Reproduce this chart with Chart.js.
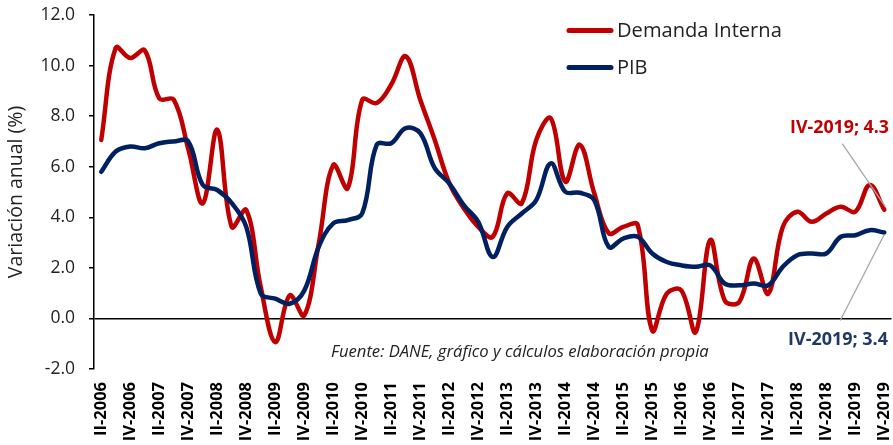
<!DOCTYPE html>
<html>
<head>
<meta charset="utf-8">
<script src="https://cdn.jsdelivr.net/npm/chart.js@4.4.1/dist/chart.umd.min.js"></script>
<style>
  html, body { margin: 0; padding: 0; background: #fff; }
  #wrap { width: 893px; height: 445px; position: relative; }
</style>
</head>
<body>
<div id="wrap"><canvas id="c" width="893" height="445"></canvas></div>
<script>
const categories = [
  "II-2006","III-2006","IV-2006",
  "I-2007","II-2007","III-2007","IV-2007",
  "I-2008","II-2008","III-2008","IV-2008",
  "I-2009","II-2009","III-2009","IV-2009",
  "I-2010","II-2010","III-2010","IV-2010",
  "I-2011","II-2011","III-2011","IV-2011",
  "I-2012","II-2012","III-2012","IV-2012",
  "I-2013","II-2013","III-2013","IV-2013",
  "I-2014","II-2014","III-2014","IV-2014",
  "I-2015","II-2015","III-2015","IV-2015",
  "I-2016","II-2016","III-2016","IV-2016",
  "I-2017","II-2017","III-2017","IV-2017",
  "I-2018","II-2018","III-2018","IV-2018",
  "I-2019","II-2019","III-2019","IV-2019"
];
const demandaInterna = [
  7.06,10.7,10.3,
  10.6,8.7,8.65,6.7,
  4.55,7.46,3.62,4.29,
  1.24,-0.94,0.91,0.12,
  2.97,6.07,5.15,8.65,
  8.52,9.25,10.37,8.65,
  7.06,5.35,4.36,3.62,
  3.23,4.95,4.55,7.06,
  7.92,5.41,6.87,4.95,
  3.37,3.62,3.69,-0.48,
  0.98,1.11,-0.54,3.1,
  0.71,0.65,2.37,0.98,
  3.62,4.22,3.82,4.15,
  4.42,4.22,5.28,4.3
];
const pib = [
  5.8,6.6,6.8,
  6.73,6.93,7.0,7.0,
  5.28,5.08,4.56,3.62,
  0.98,0.78,0.58,1.1,
  2.83,3.76,3.89,4.16,
  6.87,6.93,7.53,7.33,
  5.94,5.34,4.48,3.82,
  2.43,3.62,4.15,4.68,
  6.13,5.01,4.97,4.68,
  2.83,3.16,3.23,2.57,
  2.23,2.1,2.04,2.1,
  1.38,1.31,1.38,1.31,
  2.04,2.5,2.57,2.57,
  3.23,3.29,3.49,3.4
];
const yTicks = [-2, 0, 2, 4, 6, 8, 10, 12];
const seriesNames = ["Demanda Interna", "PIB"];
const lastLabels = ["IV-2019; 4.3", "IV-2019; 3.4"];
const sourceNote = "Fuente: DANE, gráfico y cálculos elaboración propia";
const yTitle = "Variación anual (%)";

const RED = "#C00000";
const NAVY = "#002060";
const NAVY_TXT = "#1F3864";
const TXT = "#222222";
const FONT = "'Open Sans', 'Noto Sans', sans-serif";

function fitFont(ctx, text, style, target, base) {
  ctx.font = style + " " + base + "px " + FONT;
  const w = ctx.measureText(text).width;
  const size = base * target / w;
  ctx.font = style + " " + size.toFixed(2) + "px " + FONT;
  return size;
}

const overlay = {
  id: "overlay",
  afterDraw(chart) {
    const ctx = chart.ctx;
    ctx.save();
    // legend
    const items = [[seriesNames[0], RED, 30.5], [seriesNames[1], NAVY, 67.5]];
    items.forEach(([name, col, y], i) => {
      ctx.strokeStyle = col; ctx.lineWidth = 5; ctx.lineCap = "round";
      ctx.beginPath(); ctx.moveTo(569, y); ctx.lineTo(611, y); ctx.stroke();
      ctx.fillStyle = TXT; ctx.textBaseline = "middle"; ctx.textAlign = "left";
      ctx.font = "normal 20px " + FONT;
      if (i === 0) fitFont(ctx, name, "normal", 165, 20);
      ctx.fillText(name, 617, y + 0.5);
    });
    // source note
    ctx.fillStyle = TXT;
    fitFont(ctx, sourceNote, "italic", 378, 14);
    ctx.textAlign = "left"; ctx.textBaseline = "middle";
    ctx.fillText(sourceNote, 331, 352);
    // last value annotations
    const mR = chart.getDatasetMeta(0).data;
    const mB = chart.getDatasetMeta(1).data;
    const pr = mR[mR.length - 1], pb = mB[mB.length - 1];
    ctx.strokeStyle = "#A6A6A6"; ctx.lineWidth = 1.3; ctx.lineCap = "butt";
    ctx.beginPath(); ctx.moveTo(pr.x + 1, pr.y - 3); ctx.lineTo(pr.x - 42, pr.y - 66); ctx.stroke();
    ctx.beginPath(); ctx.moveTo(pb.x, pb.y + 2); ctx.lineTo(pb.x - 44, pb.y + 88); ctx.stroke();
    ctx.textAlign = "right"; ctx.textBaseline = "middle";
    fitFont(ctx, lastLabels[0], "bold", 99, 18);
    ctx.fillStyle = RED; ctx.fillText(lastLabels[0], 889, 128);
    fitFont(ctx, lastLabels[1], "bold", 100, 18);
    ctx.fillStyle = NAVY_TXT; ctx.fillText(lastLabels[1], 888, 340);
    ctx.restore();
  }
};

new Chart(document.getElementById("c"), {
  type: "line",
  data: {
    labels: categories,
    datasets: [
      { label: seriesNames[0], data: demandaInterna, borderColor: RED, backgroundColor: RED,
        borderWidth: 4.5, pointRadius: 0, tension: 0.38, order: 2, borderCapStyle: "round", borderJoinStyle: "round" },
      { label: seriesNames[1], data: pib, borderColor: NAVY, backgroundColor: NAVY,
        borderWidth: 4.5, pointRadius: 0, tension: 0.38, order: 1, borderCapStyle: "round", borderJoinStyle: "round" }
    ]
  },
  options: {
    responsive: false,
    animation: false,
    devicePixelRatio: 1,
    layout: { padding: { left: 0, top: 15, right: 1.5, bottom: 0 } },
    plugins: { legend: { display: false }, tooltip: { enabled: false } },
    scales: {
      x: {
        offset: true,
        grid: { display: false, drawTicks: false },
        border: { display: false },
        ticks: {
          autoSkip: false, maxRotation: 90, minRotation: 90, padding: 13,
          color: "#000",
          font: { family: "'Open Sans', sans-serif", size: 16.5, weight: "bold", lineHeight: 1.0 },
          callback: function (v, i) { return i % 2 === 0 ? categories[i] : null; }
        },
        afterFit(scale) { scale.height = 76; scale.paddingRight = 0; scale.paddingLeft = 0; scale.paddingTop = 0; scale.paddingBottom = 0; }
      },
      y: {
        min: yTicks[0], max: yTicks[yTicks.length - 1],
        afterBuildTicks(scale) { scale.ticks = yTicks.map(v => ({ value: v })); },
        border: { display: true, color: "#000", width: 1.5 },
        grid: {
          drawOnChartArea: true, drawTicks: true, tickLength: 5, tickColor: "#000", tickWidth: 1.5,
          color: (c) => (c.tick && c.tick.value === 0) ? "#000" : "rgba(0,0,0,0)",
          lineWidth: 1.5
        },
        ticks: {
          padding: 14, color: TXT,
          font: { family: "'Open Sans', sans-serif", size: 17.5 },
          callback: (v) => Number(v).toFixed(1)
        },
        title: {
          display: true, text: yTitle, color: TXT,
          font: { family: "'Open Sans', sans-serif", size: 19.5 },
          padding: { top: 5, bottom: 0 }
        },
        afterFit(scale) { scale.width = 94; scale.paddingTop = 0; scale.paddingBottom = 0; }
      }
    }
  },
  plugins: [overlay]
});
</script>
</body>
</html>
